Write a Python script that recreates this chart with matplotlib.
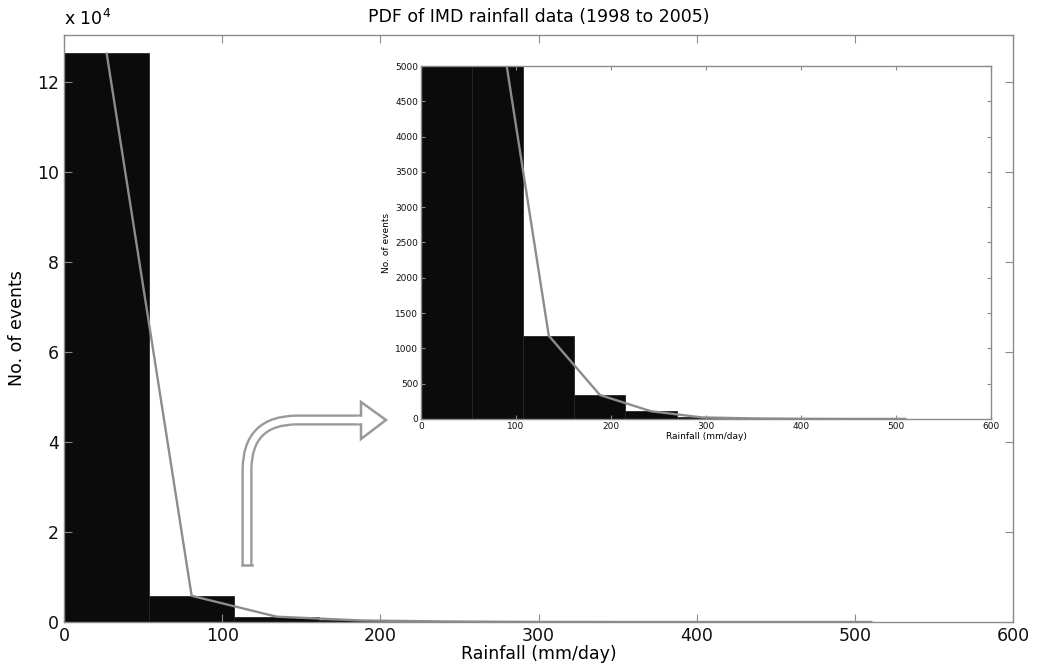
"""PDF of IMD rainfall data with a zoomed inset of the tail."""

import matplotlib

matplotlib.use("Agg")
import matplotlib.pyplot as plt
from matplotlib.path import Path
from matplotlib.patches import PathPatch, Polygon
from matplotlib.ticker import FuncFormatter

# histogram: 10 equal bins over 0..538 mm/day
BIN_EDGES = [0, 53.8, 107.6, 161.4, 215.2, 269.0, 322.8, 376.6, 430.4, 484.2, 538.0]
COUNTS = [126500, 5820, 1180, 340, 110, 22, 8, 3, 1, 1]

TITLE = "PDF of IMD rainfall data (1998 to 2005)"
XLABEL = "Rainfall (mm/day)"
YLABEL = "No. of events"

W, H = 1037, 667
BAR_C = "#0b0b0b"
LINE_C = "#8c8c8c"
SPINE_C = "#8a8a8a"

plt.rcParams.update({
    "font.family": ["DejaVu Sans"],
    "xtick.direction": "in",
    "ytick.direction": "in",
    "xtick.top": True,
    "ytick.right": True,
})


def px(x, y):
    """pixel position in the reference -> figure fraction"""
    return (x / W, 1 - y / H)


def draw_hist(ax, lw_line):
    widths = [b - a for a, b in zip(BIN_EDGES[:-1], BIN_EDGES[1:])]
    centers = [a + w / 2 for a, w in zip(BIN_EDGES[:-1], widths)]
    ax.bar(BIN_EDGES[:-1], COUNTS, width=widths, align="edge",
           color=BAR_C, edgecolor="#262626", linewidth=0.6)
    ax.plot(centers, COUNTS, color=LINE_C, lw=lw_line, solid_capstyle="butt")
    for s in ax.spines.values():
        s.set_color(SPINE_C)
        s.set_linewidth(1.0)
    ax.tick_params(colors=SPINE_C, labelcolor="#111111", length=4, width=0.8)


fig = plt.figure(figsize=(W / 100, H / 100), dpi=100)

# main axes
ax = fig.add_axes([64 / W, 1 - 622 / H, 949 / W, 587 / H])
draw_hist(ax, 1.7)
ax.set_xlim(0, 600)
ax.set_ylim(0, 130400)
ax.set_xticks(range(0, 601, 100))
ax.set_yticks(range(0, 120001, 20000))
ax.yaxis.set_major_formatter(FuncFormatter(lambda v, p: f"{v / 1e4:g}"))
ax.tick_params(labelsize=12.5, length=6)
ax.set_xlabel(XLABEL, fontsize=12.5, labelpad=0)
ax.set_ylabel(YLABEL, fontsize=12.5, labelpad=8)
ax.set_title(TITLE, fontsize=12.5, pad=9)
ax.text(0, 1.01, r"x 10$^4$", transform=ax.transAxes, fontsize=12.5,
        ha="left", va="bottom")

# inset axes
ins = fig.add_axes([421 / W, 1 - 419 / H, 570 / W, 353 / H])
draw_hist(ins, 1.7)
ins.set_xlim(0, 600)
ins.set_ylim(0, 5000)
ins.set_xticks(range(0, 601, 100))
ins.set_yticks(range(0, 5001, 500))
ins.tick_params(labelsize=6.5, length=3, pad=2)
ins.set_xlabel(XLABEL, fontsize=6.5, labelpad=1)
ins.set_ylabel(YLABEL, fontsize=6.5, labelpad=3)

# hollow bent arrow pointing to the inset
verts = [px(247, 565), px(247, 470), px(247, 420), px(297, 420), px(362, 420)]
codes = [Path.MOVETO, Path.LINETO, Path.CURVE3, Path.CURVE3, Path.LINETO]
shaft = Path(verts, codes)
fig.patches.append(PathPatch(shaft, transform=fig.transFigure, fill=False,
                             edgecolor="#9a9a9a", lw=8.0, capstyle="butt",
                             joinstyle="round"))
fig.patches.append(PathPatch(shaft, transform=fig.transFigure, fill=False,
                             edgecolor="white", lw=4.6, capstyle="butt",
                             joinstyle="round"))
# closing the shaft's bottom end
fig.lines.append(plt.Line2D([241.8 / W, 252.2 / W], [1 - 565 / H] * 2,
                            transform=fig.transFigure, color="#9a9a9a", lw=1.8))
head = Polygon([px(361, 402), px(386, 420), px(361, 439)], closed=True,
               transform=fig.transFigure, facecolor="white",
               edgecolor="#9a9a9a", lw=1.8, joinstyle="miter")
fig.patches.append(head)
fig.lines.append(plt.Line2D([359 / W, 363 / W], [1 - 420 / H] * 2,
                            transform=fig.transFigure, color="white", lw=4.6))

fig.savefig("out.png", dpi=100)
